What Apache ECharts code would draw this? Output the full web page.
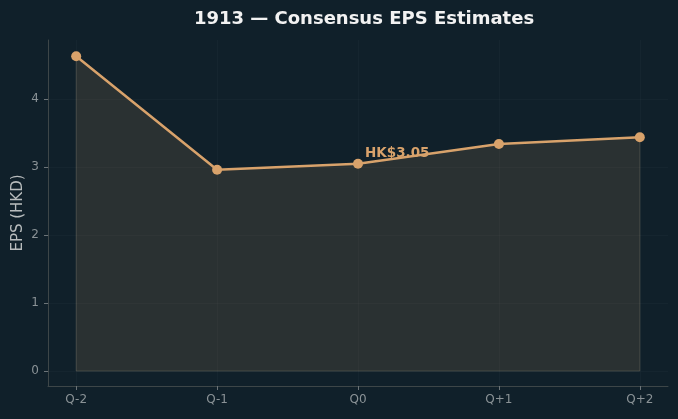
<!DOCTYPE html>
<html>
<head>
<meta charset="utf-8">
<script src="https://cdn.jsdelivr.net/npm/echarts@6/dist/echarts.min.js"></script>
<style>
	html, body { margin: 0; padding: 0; background: #10202a; }
	#chart { width: 678px; height: 419px; }
</style>
</head>
<body>
<div id="chart"></div>
<script>
const quarters = ['Q-2', 'Q-1', 'Q0', 'Q+1', 'Q+2']
const epsValues = [4.63, 2.96, 3.05, 3.34, 3.44]
const yTicks = [0, 1, 2, 3, 4]
const highlightIndex = 2
const highlightLabel = 'HK$3.05'

const font = 'DejaVu Sans'
const lineColor = '#d8a26b'
const gridColor = 'rgba(255, 255, 255, 0.022)'
const spineColor = '#3d4648'

const points = epsValues.map((v, i) => {
	const item = { value: [i, v] }
	if (i === highlightIndex) {
		item.label = {
			show: true,
			position: 'right',
			distance: 2,
			offset: [0, -10],
			formatter: highlightLabel,
			color: lineColor,
			fontFamily: font,
			fontWeight: 'bold',
			fontSize: 13.5,
		}
	}
	return item
})

const option = {
	backgroundColor: '#10202a',
	animation: false,
	title: {
		text: '1913 — Consensus EPS Estimates',
		left: 359,
		textAlign: 'center',
		top: 5,
		textStyle: {
			color: '#f2f2f2',
			fontFamily: font,
			fontWeight: 'bold',
			fontSize: 18,
		},
	},
	grid: {
		left: 48,
		right: 10,
		top: 40,
		bottom: 33,
		containLabel: false,
		outerBoundsMode: 'none',
	},
	xAxis: {
		type: 'value',
		min: -0.2,
		max: 4.2,
		axisLine: { show: true, onZero: false, lineStyle: { color: spineColor } },
		axisTick: {
			show: true,
			customValues: quarters.map((q, i) => i),
			length: 4,
			lineStyle: { color: '#6c7478' },
		},
		axisLabel: {
			customValues: quarters.map((q, i) => i),
			formatter: (v) => quarters[Math.round(v)],
			color: '#8a9296',
			fontFamily: font,
			fontSize: 12,
			margin: 8,
		},
		splitLine: { show: false },
	},
	yAxis: {
		type: 'value',
		min: -0.22,
		max: 4.87,
		name: 'EPS (HKD)',
		nameLocation: 'middle',
		nameGap: 22,
		nameMoveOverlap: false,
		nameTextStyle: {
			color: '#b8bcbd',
			fontFamily: font,
			fontSize: 15,
		},
		axisLine: { show: true, onZero: false, lineStyle: { color: spineColor } },
		axisTick: {
			show: true,
			customValues: yTicks,
			length: 4,
			lineStyle: { color: '#6c7478' },
		},
		axisLabel: {
			customValues: yTicks,
			color: '#8a9296',
			fontFamily: font,
			fontSize: 12,
			margin: 9,
		},
		splitLine: { show: false },
	},
	series: [
		{
			// faint grid lines
			type: 'line',
			data: [],
			silent: true,
			markLine: {
				silent: true,
				symbol: 'none',
				label: { show: false },
				lineStyle: { color: gridColor, type: 'solid', width: 1 },
				data: [
					...yTicks.map((t) => ({ yAxis: t })),
					...quarters.map((q, i) => ({ xAxis: i })),
				],
			},
		},
		{
			// area with edge, dropping to zero
			type: 'line',
			data: [[0, 0], ...epsValues.map((v, i) => [i, v]), [epsValues.length - 1, 0], [0, 0]],
			symbol: 'none',
			silent: true,
			lineStyle: { color: 'rgba(120, 118, 105, 0.4)', width: 1 },
			areaStyle: { color: 'rgba(84, 76, 64, 0.56)', origin: 0 },
		},
		{
			type: 'line',
			data: points,
			symbol: 'circle',
			symbolSize: 10,
			itemStyle: { color: lineColor },
			lineStyle: { color: lineColor, width: 2.5 },
			z: 5,
		},
	],
}

const myChart = echarts.init(document.getElementById('chart'))
myChart.setOption(option)
</script>
</body>
</html>
